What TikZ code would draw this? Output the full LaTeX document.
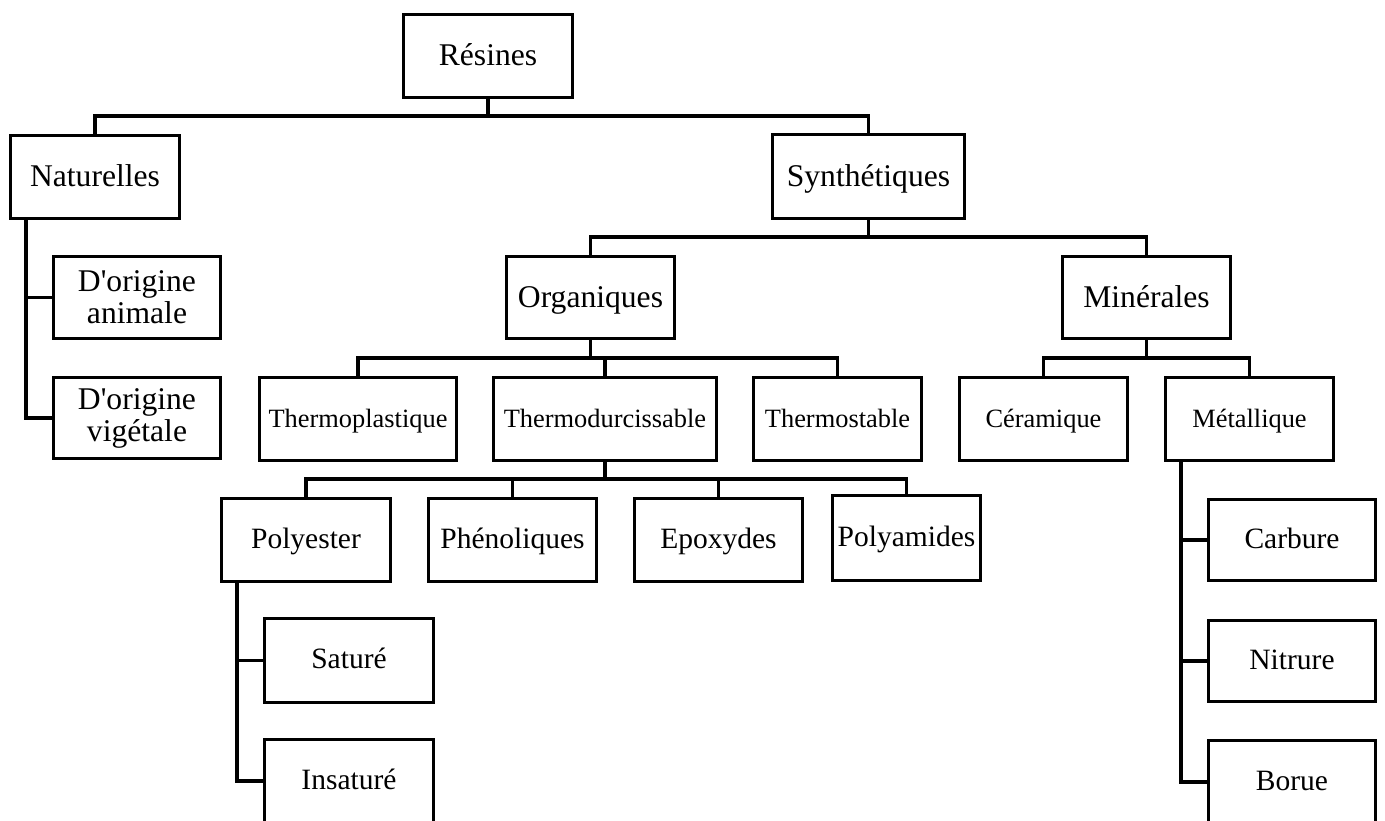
\documentclass[tikz,border=0pt]{standalone}
\usepackage{fontspec}
\setmainfont{Liberation Serif}

\tikzstyle{box} = [draw,line width=3pt,inner sep=0pt,align=center]
\tikzstyle{bigtext} = [font=\fontsize{31.6}{32}\selectfont,text height=29pt,text depth=9pt]
\tikzstyle{pairtext} = [font=\fontsize{31.6}{32}\selectfont]
\tikzstyle{midtext} = [font=\fontsize{29.5}{30}\selectfont,text height=25pt,text depth=9pt]
\tikzstyle{smalltext} = [font=\fontsize{26.4}{27}\selectfont,text height=24pt,text depth=8pt]
\tikzstyle{link} = [draw,line width=3.3pt,-]

\begin{document}
\begin{tikzpicture}[x=1pt,y=-1pt]
      \useasboundingbox (0,0) rectangle (1385,821);
      %% boxes

      \foreach \nodename/\lbl/\x/\y/\w/\h/\sty in {
        res/R\'esines/488/56/169/83/bigtext,
        nat/Naturelles/95/177/169/83/bigtext,
        syn/Synth\'etiques/868.5/176.5/192/84/bigtext,
        ani/{D\textquotesingle origine\\animale}/137/297.5/167/82/pairtext,
        vig/{D\textquotesingle origine\\vig\'etale}/137/418/167/81/pairtext,
        org/Organiques/590.5/297.5/168/82/bigtext,
        min/Min\'erales/1146.5/297.5/168/82/bigtext,
        tpl/Thermoplastique/358/419/197/83/smalltext,
        tdu/Thermodurcissable/605/419/223/83/smalltext,
        tst/Thermostable/837.5/419/168/83/smalltext,
        cer/C\'eramique/1043.5/419/168/83/smalltext,
        met/M\'etallique/1249.5/419/168/83/smalltext,
        pol/Polyester/306/540/169/83/midtext,
        phe/Ph\'enoliques/512.5/540/168/83/midtext,
        epo/Epoxydes/718.5/540/168/83/midtext,
        pam/Polyamides/906.5/538/148/85/midtext,
        car/Carbure/1292/540/167/81/midtext,
        sat/Satur\'e/349/660.5/169/84/midtext,
        ins/Insatur\'e/349/781/169/83/midtext,
        nit/Nitrure/1292/661/167/81/midtext,
        bor/Borue/1292/782/167/83/midtext}
      {
        \node[box,\sty,minimum width=\w pt,minimum height=\h pt] (\nodename) at (\x,\y) {\lbl};
      }
      % links down to the next row
      \foreach \parent/\child/\drop in {
        res/nat/17, res/syn/17, syn/org/17, syn/min/17,
        org/tpl/18, org/tdu/18, org/tst/18, min/cer/18, min/met/18,
        tdu/pol/17, tdu/phe/17, tdu/epo/17, tdu/pam/17}
      {
        \draw[link] (\parent.south) -- ++(0,\drop) -| (\child.north);
      }
      % links down the side
      \foreach \parent/\child in {
        nat/ani, nat/vig, pol/sat, pol/ins, met/car, met/nit, met/bor}
      {
        \draw[link] ([xshift=17pt]\parent.south west) |- (\child.west);
      }
    \end{tikzpicture}
\end{document}
